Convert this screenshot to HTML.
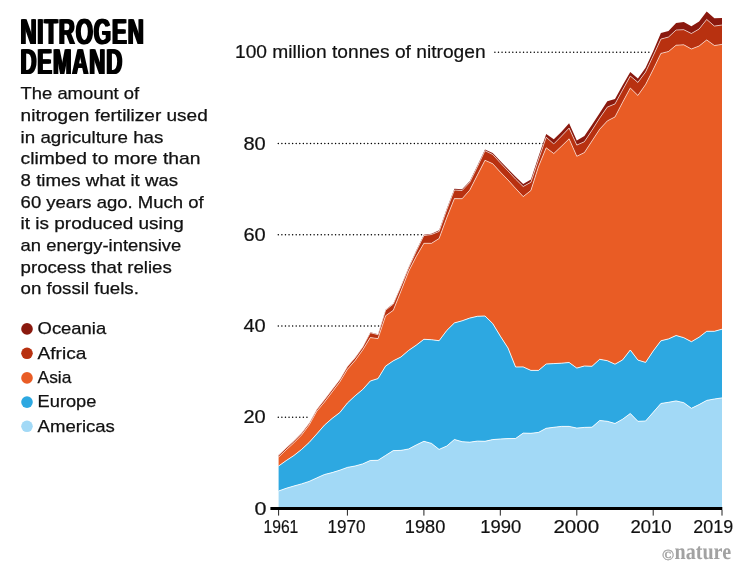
<!DOCTYPE html>
<html><head><meta charset="utf-8"><title>Nitrogen demand</title>
<style>html,body{margin:0;padding:0;background:#fff}svg{display:block}
#wrap{position:relative;width:751px;height:570px;overflow:hidden}
</style></head>
<body><div id="wrap"><svg width="751" height="570" viewBox="0 0 751 570">
<rect width="751" height="570" fill="#fff"/>
<line x1="278.3" y1="417.2" x2="309" y2="417.2" stroke="#000" stroke-width="1.5" stroke-linecap="round" stroke-dasharray="0 3.58"/>
<line x1="278.3" y1="326.0" x2="384" y2="326.0" stroke="#000" stroke-width="1.5" stroke-linecap="round" stroke-dasharray="0 3.58"/>
<line x1="278.3" y1="234.7" x2="423" y2="234.7" stroke="#000" stroke-width="1.5" stroke-linecap="round" stroke-dasharray="0 3.58"/>
<line x1="278.3" y1="143.5" x2="560" y2="143.5" stroke="#000" stroke-width="1.5" stroke-linecap="round" stroke-dasharray="0 3.58"/>
<line x1="494.9" y1="52.3" x2="651" y2="52.3" stroke="#000" stroke-width="1.5" stroke-linecap="round" stroke-dasharray="0 3.58"/>
<path d="M278.6,455.1 L286.2,447.8 L293.9,440.8 L301.5,433.1 L309.2,422.9 L316.8,409.2 L324.5,399.5 L332.1,389.5 L339.8,379.4 L347.4,366.4 L355.1,357.6 L362.7,347.0 L370.3,332.2 L378.0,334.2 L385.6,309.7 L393.3,303.6 L400.9,285.9 L408.6,267.2 L416.2,250.6 L423.9,234.8 L431.5,233.7 L439.1,230.2 L446.8,208.5 L454.4,188.8 L462.1,189.3 L469.7,181.2 L477.4,165.6 L485.0,149.5 L492.7,153.0 L500.3,161.1 L508.0,168.9 L515.6,176.8 L523.2,184.0 L530.9,179.5 L538.5,156.5 L546.2,134.0 L553.8,139.3 L561.5,131.8 L569.1,123.3 L576.8,140.4 L584.4,136.1 L592.0,124.8 L599.7,113.0 L607.3,101.2 L615.0,98.9 L622.6,85.2 L630.3,72.0 L637.9,78.4 L645.6,67.7 L653.2,51.3 L660.9,33.0 L668.5,31.0 L676.1,23.1 L683.8,22.0 L691.4,26.3 L699.1,21.5 L706.7,11.4 L714.4,18.3 L722.0,18.0 L722.0,25.0 L714.4,26.1 L706.7,19.4 L699.1,29.0 L691.4,33.5 L683.8,29.7 L676.1,30.0 L668.5,37.0 L660.9,39.1 L653.2,55.8 L645.6,72.0 L637.9,82.4 L630.3,76.0 L622.6,90.0 L615.0,103.9 L607.3,107.1 L599.7,118.1 L592.0,130.2 L584.4,141.7 L576.8,145.1 L569.1,128.1 L561.5,136.1 L553.8,143.9 L546.2,137.2 L538.5,159.5 L530.9,182.2 L523.2,186.5 L515.6,179.1 L508.0,170.9 L500.3,162.8 L492.7,154.5 L485.0,150.7 L477.4,166.8 L469.7,182.4 L462.1,190.5 L454.4,190.0 L446.8,209.7 L439.1,231.4 L431.5,234.5 L423.9,235.6 L416.2,251.4 L408.6,268.0 L400.9,286.4 L393.3,304.1 L385.6,310.2 L378.0,334.7 L370.3,332.7 L362.7,347.1 L355.1,357.8 L347.4,366.5 L339.8,379.5 L332.1,389.6 L324.5,399.6 L316.8,409.3 L309.2,423.0 L301.5,433.2 L293.9,440.9 L286.2,447.9 L278.6,455.2Z" fill="#8a190e"/>
<path d="M278.6,455.2 L286.2,447.9 L293.9,440.9 L301.5,433.2 L309.2,423.0 L316.8,409.3 L324.5,399.6 L332.1,389.6 L339.8,379.5 L347.4,366.5 L355.1,357.8 L362.7,347.1 L370.3,332.7 L378.0,334.7 L385.6,310.2 L393.3,304.1 L400.9,286.4 L408.6,268.0 L416.2,251.4 L423.9,235.6 L431.5,234.5 L439.1,231.4 L446.8,209.7 L454.4,190.0 L462.1,190.5 L469.7,182.4 L477.4,166.8 L485.0,150.7 L492.7,154.5 L500.3,162.8 L508.0,170.9 L515.6,179.1 L523.2,186.5 L530.9,182.2 L538.5,159.5 L546.2,137.2 L553.8,143.9 L561.5,136.1 L569.1,128.1 L576.8,145.1 L584.4,141.7 L592.0,130.2 L599.7,118.1 L607.3,107.1 L615.0,103.9 L622.6,90.0 L630.3,76.0 L637.9,82.4 L645.6,72.0 L653.2,55.8 L660.9,39.1 L668.5,37.0 L676.1,30.0 L683.8,29.7 L691.4,33.5 L699.1,29.0 L706.7,19.4 L714.4,26.1 L722.0,25.0 L722.0,44.4 L714.4,45.5 L706.7,39.9 L699.1,46.0 L691.4,49.0 L683.8,44.8 L676.1,45.2 L668.5,51.5 L660.9,53.4 L653.2,69.4 L645.6,84.5 L637.9,95.4 L630.3,88.0 L622.6,102.3 L615.0,116.9 L607.3,120.9 L599.7,129.2 L592.0,140.9 L584.4,152.6 L576.8,156.3 L569.1,138.8 L561.5,146.2 L553.8,153.5 L546.2,147.8 L538.5,166.5 L530.9,190.5 L523.2,196.6 L515.6,188.4 L508.0,180.0 L500.3,172.1 L492.7,163.7 L485.0,160.3 L477.4,175.1 L469.7,190.2 L462.1,198.7 L454.4,198.6 L446.8,217.6 L439.1,238.5 L431.5,243.3 L423.9,243.3 L416.2,256.6 L408.6,271.4 L400.9,291.2 L393.3,310.3 L385.6,315.8 L378.0,338.6 L370.3,337.6 L362.7,349.9 L355.1,360.5 L347.4,369.3 L339.8,381.9 L332.1,392.0 L324.5,402.0 L316.8,411.2 L309.2,424.9 L301.5,435.1 L293.9,442.8 L286.2,449.8 L278.6,457.1Z" fill="#b83110"/>
<path d="M278.6,457.1 L286.2,449.8 L293.9,442.8 L301.5,435.1 L309.2,424.9 L316.8,411.2 L324.5,402.0 L332.1,392.0 L339.8,381.9 L347.4,369.3 L355.1,360.5 L362.7,349.9 L370.3,337.6 L378.0,338.6 L385.6,315.8 L393.3,310.3 L400.9,291.2 L408.6,271.4 L416.2,256.6 L423.9,243.3 L431.5,243.3 L439.1,238.5 L446.8,217.6 L454.4,198.6 L462.1,198.7 L469.7,190.2 L477.4,175.1 L485.0,160.3 L492.7,163.7 L500.3,172.1 L508.0,180.0 L515.6,188.4 L523.2,196.6 L530.9,190.5 L538.5,166.5 L546.2,147.8 L553.8,153.5 L561.5,146.2 L569.1,138.8 L576.8,156.3 L584.4,152.6 L592.0,140.9 L599.7,129.2 L607.3,120.9 L615.0,116.9 L622.6,102.3 L630.3,88.0 L637.9,95.4 L645.6,84.5 L653.2,69.4 L660.9,53.4 L668.5,51.5 L676.1,45.2 L683.8,44.8 L691.4,49.0 L699.1,46.0 L706.7,39.9 L714.4,45.5 L722.0,44.4 L722.0,329.2 L714.4,331.3 L706.7,331.3 L699.1,337.2 L691.4,341.7 L683.8,337.7 L676.1,335.5 L668.5,338.9 L660.9,340.8 L653.2,351.0 L645.6,362.4 L637.9,360.1 L630.3,350.0 L622.6,359.9 L615.0,364.2 L607.3,360.7 L599.7,359.3 L592.0,366.3 L584.4,366.0 L576.8,368.1 L569.1,362.5 L561.5,363.2 L553.8,363.6 L546.2,364.0 L538.5,370.4 L530.9,370.4 L523.2,366.9 L515.6,367.0 L508.0,348.0 L500.3,336.1 L492.7,323.5 L485.0,316.0 L477.4,316.3 L469.7,318.1 L462.1,320.8 L454.4,322.9 L446.8,330.4 L439.1,340.7 L431.5,339.7 L423.9,339.3 L416.2,345.2 L408.6,350.4 L400.9,357.0 L393.3,360.8 L385.6,366.1 L378.0,378.6 L370.3,381.0 L362.7,389.5 L355.1,395.8 L347.4,403.0 L339.8,412.6 L332.1,418.4 L324.5,425.1 L316.8,433.9 L309.2,442.4 L301.5,449.5 L293.9,455.5 L286.2,460.6 L278.6,466.0Z" fill="#e95c25"/>
<path d="M278.6,466.0 L286.2,460.6 L293.9,455.5 L301.5,449.5 L309.2,442.4 L316.8,433.9 L324.5,425.1 L332.1,418.4 L339.8,412.6 L347.4,403.0 L355.1,395.8 L362.7,389.5 L370.3,381.0 L378.0,378.6 L385.6,366.1 L393.3,360.8 L400.9,357.0 L408.6,350.4 L416.2,345.2 L423.9,339.3 L431.5,339.7 L439.1,340.7 L446.8,330.4 L454.4,322.9 L462.1,320.8 L469.7,318.1 L477.4,316.3 L485.0,316.0 L492.7,323.5 L500.3,336.1 L508.0,348.0 L515.6,367.0 L523.2,366.9 L530.9,370.4 L538.5,370.4 L546.2,364.0 L553.8,363.6 L561.5,363.2 L569.1,362.5 L576.8,368.1 L584.4,366.0 L592.0,366.3 L599.7,359.3 L607.3,360.7 L615.0,364.2 L622.6,359.9 L630.3,350.0 L637.9,360.1 L645.6,362.4 L653.2,351.0 L660.9,340.8 L668.5,338.9 L676.1,335.5 L683.8,337.7 L691.4,341.7 L699.1,337.2 L706.7,331.3 L714.4,331.3 L722.0,329.2 L722.0,397.9 L714.4,399.0 L706.7,400.4 L699.1,404.6 L691.4,408.3 L683.8,402.7 L676.1,400.9 L668.5,402.3 L660.9,403.5 L653.2,412.3 L645.6,421.0 L637.9,421.3 L630.3,413.5 L622.6,419.2 L615.0,423.5 L607.3,421.3 L599.7,420.5 L592.0,427.2 L584.4,427.4 L576.8,428.1 L569.1,426.4 L561.5,426.4 L553.8,427.3 L546.2,428.3 L538.5,432.4 L530.9,433.3 L523.2,433.1 L515.6,438.5 L508.0,438.6 L500.3,439.0 L492.7,439.6 L485.0,441.3 L477.4,441.1 L469.7,442.2 L462.1,441.7 L454.4,439.5 L446.8,446.0 L439.1,449.4 L431.5,443.4 L423.9,441.3 L416.2,445.0 L408.6,449.0 L400.9,450.4 L393.3,450.6 L385.6,455.4 L378.0,460.3 L370.3,460.5 L362.7,463.9 L355.1,466.0 L347.4,467.4 L339.8,470.2 L332.1,472.6 L324.5,474.5 L316.8,477.9 L309.2,481.4 L301.5,483.9 L293.9,486.0 L286.2,488.3 L278.6,491.0Z" fill="#2da8e1"/>
<path d="M278.6,491.0 L286.2,488.3 L293.9,486.0 L301.5,483.9 L309.2,481.4 L316.8,477.9 L324.5,474.5 L332.1,472.6 L339.8,470.2 L347.4,467.4 L355.1,466.0 L362.7,463.9 L370.3,460.5 L378.0,460.3 L385.6,455.4 L393.3,450.6 L400.9,450.4 L408.6,449.0 L416.2,445.0 L423.9,441.3 L431.5,443.4 L439.1,449.4 L446.8,446.0 L454.4,439.5 L462.1,441.7 L469.7,442.2 L477.4,441.1 L485.0,441.3 L492.7,439.6 L500.3,439.0 L508.0,438.6 L515.6,438.5 L523.2,433.1 L530.9,433.3 L538.5,432.4 L546.2,428.3 L553.8,427.3 L561.5,426.4 L569.1,426.4 L576.8,428.1 L584.4,427.4 L592.0,427.2 L599.7,420.5 L607.3,421.3 L615.0,423.5 L622.6,419.2 L630.3,413.5 L637.9,421.3 L645.6,421.0 L653.2,412.3 L660.9,403.5 L668.5,402.3 L676.1,400.9 L683.8,402.7 L691.4,408.3 L699.1,404.6 L706.7,400.4 L714.4,399.0 L722.0,397.9 L722.0,508.4 L278.6,508.4Z" fill="#a2d9f6"/>
<path d="M278.6,455.2 L286.2,447.9 L293.9,440.9 L301.5,433.2 L309.2,423.0 L316.8,409.3 L324.5,399.6 L332.1,389.6 L339.8,379.5 L347.4,366.5 L355.1,357.8 L362.7,347.1 L370.3,332.7 L378.0,334.7 L385.6,310.2 L393.3,304.1 L400.9,286.4 L408.6,268.0 L416.2,251.4 L423.9,235.6 L431.5,234.5 L439.1,231.4 L446.8,209.7 L454.4,190.0 L462.1,190.5 L469.7,182.4 L477.4,166.8 L485.0,150.7 L492.7,154.5 L500.3,162.8 L508.0,170.9 L515.6,179.1 L523.2,186.5 L530.9,182.2 L538.5,159.5 L546.2,137.2 L553.8,143.9 L561.5,136.1 L569.1,128.1 L576.8,145.1 L584.4,141.7 L592.0,130.2 L599.7,118.1 L607.3,107.1 L615.0,103.9 L622.6,90.0 L630.3,76.0 L637.9,82.4 L645.6,72.0 L653.2,55.8 L660.9,39.1 L668.5,37.0 L676.1,30.0 L683.8,29.7 L691.4,33.5 L699.1,29.0 L706.7,19.4 L714.4,26.1 L722.0,25.0" fill="none" stroke="#fff" stroke-width="0.6" stroke-linejoin="round"/>
<path d="M278.6,457.1 L286.2,449.8 L293.9,442.8 L301.5,435.1 L309.2,424.9 L316.8,411.2 L324.5,402.0 L332.1,392.0 L339.8,381.9 L347.4,369.3 L355.1,360.5 L362.7,349.9 L370.3,337.6 L378.0,338.6 L385.6,315.8 L393.3,310.3 L400.9,291.2 L408.6,271.4 L416.2,256.6 L423.9,243.3 L431.5,243.3 L439.1,238.5 L446.8,217.6 L454.4,198.6 L462.1,198.7 L469.7,190.2 L477.4,175.1 L485.0,160.3 L492.7,163.7 L500.3,172.1 L508.0,180.0 L515.6,188.4 L523.2,196.6 L530.9,190.5 L538.5,166.5 L546.2,147.8 L553.8,153.5 L561.5,146.2 L569.1,138.8 L576.8,156.3 L584.4,152.6 L592.0,140.9 L599.7,129.2 L607.3,120.9 L615.0,116.9 L622.6,102.3 L630.3,88.0 L637.9,95.4 L645.6,84.5 L653.2,69.4 L660.9,53.4 L668.5,51.5 L676.1,45.2 L683.8,44.8 L691.4,49.0 L699.1,46.0 L706.7,39.9 L714.4,45.5 L722.0,44.4" fill="none" stroke="#fff" stroke-width="0.6" stroke-linejoin="round"/>
<path d="M278.6,466.0 L286.2,460.6 L293.9,455.5 L301.5,449.5 L309.2,442.4 L316.8,433.9 L324.5,425.1 L332.1,418.4 L339.8,412.6 L347.4,403.0 L355.1,395.8 L362.7,389.5 L370.3,381.0 L378.0,378.6 L385.6,366.1 L393.3,360.8 L400.9,357.0 L408.6,350.4 L416.2,345.2 L423.9,339.3 L431.5,339.7 L439.1,340.7 L446.8,330.4 L454.4,322.9 L462.1,320.8 L469.7,318.1 L477.4,316.3 L485.0,316.0 L492.7,323.5 L500.3,336.1 L508.0,348.0 L515.6,367.0 L523.2,366.9 L530.9,370.4 L538.5,370.4 L546.2,364.0 L553.8,363.6 L561.5,363.2 L569.1,362.5 L576.8,368.1 L584.4,366.0 L592.0,366.3 L599.7,359.3 L607.3,360.7 L615.0,364.2 L622.6,359.9 L630.3,350.0 L637.9,360.1 L645.6,362.4 L653.2,351.0 L660.9,340.8 L668.5,338.9 L676.1,335.5 L683.8,337.7 L691.4,341.7 L699.1,337.2 L706.7,331.3 L714.4,331.3 L722.0,329.2" fill="none" stroke="#fff" stroke-width="0.85" stroke-linejoin="round"/>
<path d="M278.6,491.0 L286.2,488.3 L293.9,486.0 L301.5,483.9 L309.2,481.4 L316.8,477.9 L324.5,474.5 L332.1,472.6 L339.8,470.2 L347.4,467.4 L355.1,466.0 L362.7,463.9 L370.3,460.5 L378.0,460.3 L385.6,455.4 L393.3,450.6 L400.9,450.4 L408.6,449.0 L416.2,445.0 L423.9,441.3 L431.5,443.4 L439.1,449.4 L446.8,446.0 L454.4,439.5 L462.1,441.7 L469.7,442.2 L477.4,441.1 L485.0,441.3 L492.7,439.6 L500.3,439.0 L508.0,438.6 L515.6,438.5 L523.2,433.1 L530.9,433.3 L538.5,432.4 L546.2,428.3 L553.8,427.3 L561.5,426.4 L569.1,426.4 L576.8,428.1 L584.4,427.4 L592.0,427.2 L599.7,420.5 L607.3,421.3 L615.0,423.5 L622.6,419.2 L630.3,413.5 L637.9,421.3 L645.6,421.0 L653.2,412.3 L660.9,403.5 L668.5,402.3 L676.1,400.9 L683.8,402.7 L691.4,408.3 L699.1,404.6 L706.7,400.4 L714.4,399.0 L722.0,397.9" fill="none" stroke="#fff" stroke-width="0.85" stroke-linejoin="round"/>
<rect x="270.4" y="507" width="451.9" height="3" fill="#000"/>
<rect x="278.1" y="510" width="1" height="5.6" fill="#222"/>
<rect x="346.9" y="510" width="1" height="5.6" fill="#222"/>
<rect x="423.4" y="510" width="1" height="5.6" fill="#222"/>
<rect x="499.8" y="510" width="1" height="5.6" fill="#222"/>
<rect x="576.3" y="510" width="1" height="5.6" fill="#222"/>
<rect x="652.7" y="510" width="1" height="5.6" fill="#222"/>
<rect x="721.5" y="510" width="1" height="5.6" fill="#222"/>
<defs><filter id="fat" x="-5%" y="-5%" width="110%" height="110%"><feOffset in="SourceGraphic" dx="-0.85" result="a"/><feOffset in="SourceGraphic" dx="0.85" result="b"/><feMerge><feMergeNode in="a"/><feMergeNode in="SourceGraphic"/><feMergeNode in="b"/></feMerge></filter></defs>
<g filter="url(#fat)" font-family='"Liberation Sans", sans-serif' font-weight="bold" font-size="36.05" fill="#000" letter-spacing="1.45" text-rendering="geometricPrecision"><text transform="translate(20.4,43.8) scale(0.615,1)">NITROGEN</text><text transform="translate(20.4,74.0) scale(0.615,1)">DEMAND</text></g>
<text x="20.6" y="99.2" font-size="16.6" font-weight="normal" fill="#111" text-anchor="start" font-family='"Liberation Sans", sans-serif' textLength="118.6" lengthAdjust="spacingAndGlyphs" stroke="#111" stroke-width="0.25">The amount of</text>
<text x="20.6" y="120.89" font-size="16.6" font-weight="normal" fill="#111" text-anchor="start" font-family='"Liberation Sans", sans-serif' textLength="187.2" lengthAdjust="spacingAndGlyphs" stroke="#111" stroke-width="0.25">nitrogen fertilizer used</text>
<text x="20.6" y="142.58" font-size="16.6" font-weight="normal" fill="#111" text-anchor="start" font-family='"Liberation Sans", sans-serif' textLength="142.8" lengthAdjust="spacingAndGlyphs" stroke="#111" stroke-width="0.25">in agriculture has</text>
<text x="20.6" y="164.27" font-size="16.6" font-weight="normal" fill="#111" text-anchor="start" font-family='"Liberation Sans", sans-serif' textLength="179.8" lengthAdjust="spacingAndGlyphs" stroke="#111" stroke-width="0.25">climbed to more than</text>
<text x="20.6" y="185.96" font-size="16.6" font-weight="normal" fill="#111" text-anchor="start" font-family='"Liberation Sans", sans-serif' textLength="157.5" lengthAdjust="spacingAndGlyphs" stroke="#111" stroke-width="0.25">8 times what it was</text>
<text x="20.6" y="207.65" font-size="16.6" font-weight="normal" fill="#111" text-anchor="start" font-family='"Liberation Sans", sans-serif' textLength="183.1" lengthAdjust="spacingAndGlyphs" stroke="#111" stroke-width="0.25">60 years ago. Much of</text>
<text x="20.6" y="229.34000000000003" font-size="16.6" font-weight="normal" fill="#111" text-anchor="start" font-family='"Liberation Sans", sans-serif' textLength="163.3" lengthAdjust="spacingAndGlyphs" stroke="#111" stroke-width="0.25">it is produced using</text>
<text x="20.6" y="251.03000000000003" font-size="16.6" font-weight="normal" fill="#111" text-anchor="start" font-family='"Liberation Sans", sans-serif' textLength="160.6" lengthAdjust="spacingAndGlyphs" stroke="#111" stroke-width="0.25">an energy-intensive</text>
<text x="20.6" y="272.72" font-size="16.6" font-weight="normal" fill="#111" text-anchor="start" font-family='"Liberation Sans", sans-serif' textLength="151.2" lengthAdjust="spacingAndGlyphs" stroke="#111" stroke-width="0.25">process that relies</text>
<text x="20.6" y="294.41" font-size="16.6" font-weight="normal" fill="#111" text-anchor="start" font-family='"Liberation Sans", sans-serif' textLength="118.3" lengthAdjust="spacingAndGlyphs" stroke="#111" stroke-width="0.25">on fossil fuels.</text>
<circle cx="27" cy="328.9" r="5.8" fill="#8a190e"/>
<text x="37.6" y="334.2" font-size="17" font-weight="normal" fill="#111" text-anchor="start" font-family='"Liberation Sans", sans-serif' textLength="68.60000000000001" lengthAdjust="spacingAndGlyphs" stroke="#111" stroke-width="0.25">Oceania</text>
<circle cx="27" cy="353.3" r="5.8" fill="#b83110"/>
<text x="37.6" y="358.6" font-size="17" font-weight="normal" fill="#111" text-anchor="start" font-family='"Liberation Sans", sans-serif' textLength="48.8" lengthAdjust="spacingAndGlyphs" stroke="#111" stroke-width="0.25">Africa</text>
<circle cx="27" cy="377.9" r="5.8" fill="#e95c25"/>
<text x="37.6" y="383.2" font-size="17" font-weight="normal" fill="#111" text-anchor="start" font-family='"Liberation Sans", sans-serif' textLength="33.8" lengthAdjust="spacingAndGlyphs" stroke="#111" stroke-width="0.25">Asia</text>
<circle cx="27" cy="402.1" r="5.8" fill="#2da8e1"/>
<text x="37.6" y="407.4" font-size="17" font-weight="normal" fill="#111" text-anchor="start" font-family='"Liberation Sans", sans-serif' textLength="58.8" lengthAdjust="spacingAndGlyphs" stroke="#111" stroke-width="0.25">Europe</text>
<circle cx="27" cy="426.3" r="5.8" fill="#a2d9f6"/>
<text x="37.6" y="431.6" font-size="17" font-weight="normal" fill="#111" text-anchor="start" font-family='"Liberation Sans", sans-serif' textLength="77.30000000000001" lengthAdjust="spacingAndGlyphs" stroke="#111" stroke-width="0.25">Americas</text>
<text x="254.6" y="514.5" font-size="18.2" font-weight="normal" fill="#111" text-anchor="start" font-family='"Liberation Sans", sans-serif' textLength="12.0" lengthAdjust="spacingAndGlyphs" stroke="#111" stroke-width="0.2">0</text>
<text x="243.4" y="423.3" font-size="18.2" font-weight="normal" fill="#111" text-anchor="start" font-family='"Liberation Sans", sans-serif' textLength="22.3" lengthAdjust="spacingAndGlyphs" stroke="#111" stroke-width="0.2">20</text>
<text x="243.4" y="332.1" font-size="18.2" font-weight="normal" fill="#111" text-anchor="start" font-family='"Liberation Sans", sans-serif' textLength="22.3" lengthAdjust="spacingAndGlyphs" stroke="#111" stroke-width="0.2">40</text>
<text x="243.4" y="240.8" font-size="18.2" font-weight="normal" fill="#111" text-anchor="start" font-family='"Liberation Sans", sans-serif' textLength="22.3" lengthAdjust="spacingAndGlyphs" stroke="#111" stroke-width="0.2">60</text>
<text x="243.4" y="149.6" font-size="18.2" font-weight="normal" fill="#111" text-anchor="start" font-family='"Liberation Sans", sans-serif' textLength="22.3" lengthAdjust="spacingAndGlyphs" stroke="#111" stroke-width="0.2">80</text>
<text x="235.0" y="58.1" font-size="18.2" font-weight="normal" fill="#111" text-anchor="start" font-family='"Liberation Sans", sans-serif' textLength="250.6" lengthAdjust="spacingAndGlyphs" stroke="#111" stroke-width="0.2">100 million tonnes of nitrogen</text>
<text x="263.5" y="533.0" font-size="18.2" font-weight="normal" fill="#111" text-anchor="start" font-family='"Liberation Sans", sans-serif' textLength="34.8" lengthAdjust="spacingAndGlyphs" stroke="#111" stroke-width="0.2">1961</text>
<text x="327.6" y="533.0" font-size="18.2" font-weight="normal" fill="#111" text-anchor="start" font-family='"Liberation Sans", sans-serif' textLength="38" lengthAdjust="spacingAndGlyphs" stroke="#111" stroke-width="0.2">1970</text>
<text x="404.8" y="533.0" font-size="18.2" font-weight="normal" fill="#111" text-anchor="start" font-family='"Liberation Sans", sans-serif' textLength="40.5" lengthAdjust="spacingAndGlyphs" stroke="#111" stroke-width="0.2">1980</text>
<text x="480.2" y="533.0" font-size="18.2" font-weight="normal" fill="#111" text-anchor="start" font-family='"Liberation Sans", sans-serif' textLength="41" lengthAdjust="spacingAndGlyphs" stroke="#111" stroke-width="0.2">1990</text>
<text x="553.4" y="533.0" font-size="18.2" font-weight="normal" fill="#111" text-anchor="start" font-family='"Liberation Sans", sans-serif' textLength="45.7" lengthAdjust="spacingAndGlyphs" stroke="#111" stroke-width="0.2">2000</text>
<text x="630.4" y="533.0" font-size="18.2" font-weight="normal" fill="#111" text-anchor="start" font-family='"Liberation Sans", sans-serif' textLength="41.2" lengthAdjust="spacingAndGlyphs" stroke="#111" stroke-width="0.2">2010</text>
<text x="693.3" y="533.0" font-size="18.2" font-weight="normal" fill="#111" text-anchor="start" font-family='"Liberation Sans", sans-serif' textLength="39.8" lengthAdjust="spacingAndGlyphs" stroke="#111" stroke-width="0.2">2019</text>
<text font-family='"Liberation Serif", serif' font-weight="bold" fill="#a2a2a2" text-rendering="geometricPrecision"><tspan x="662.0" y="559.5" font-size="15.6" textLength="12.0" lengthAdjust="spacingAndGlyphs" stroke="#a2a2a2" stroke-width="0.3">©</tspan><tspan x="674.5" y="559.2" font-size="22.7" textLength="56.6" lengthAdjust="spacingAndGlyphs">nature</tspan></text>
</svg></div></body></html>
